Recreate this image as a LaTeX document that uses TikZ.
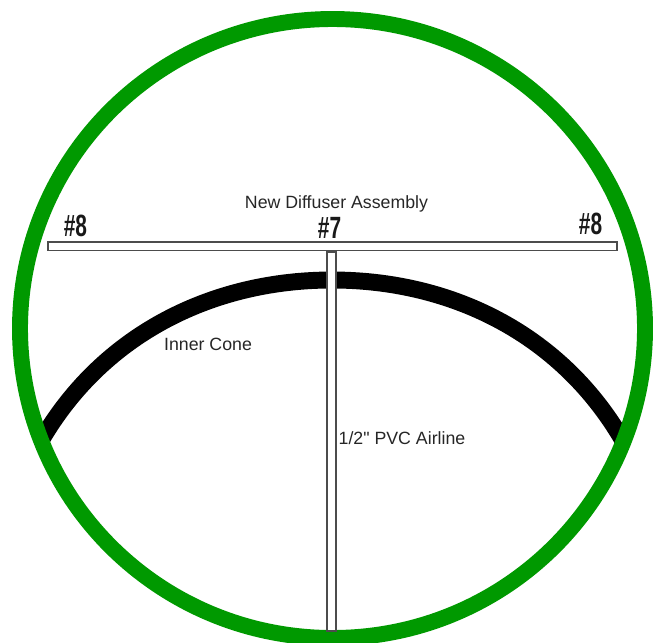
\documentclass[tikz,border=0pt]{standalone}
\usepackage{fontspec}
\newfontfamily\lblfont{Liberation Sans}
\setmainfont{Liberation Sans}
\usetikzlibrary{positioning}
\tikzset{
  lbl/.style={font=\lblfont\fontsize{10.1pt}{12pt}\selectfont,text=black!85,inner sep=0pt},
  nr/.style={font=\fontsize{17.5pt}{19pt}\selectfont\bfseries,xscale=0.68,text=black!90,inner sep=0pt},
  tube/.style={draw=black!70,fill=white,line width=1pt}
}
\definecolor{ringgreen}{RGB}{0,153,0}
\begin{document}
\begin{tikzpicture}[x=0.02cm,y=-0.02cm]
  \useasboundingbox (0,0) rectangle (655,642);
  \clip (0,0) rectangle (655,642);
  % inner cone
  \draw[line width=17*0.5669pt] (42,439) .. controls (105,332) and (215,280) .. (332,280) .. controls (449,280) and (559,332) .. (622,439);
  % outer wall
  \draw[ringgreen,line width=16*0.5669pt] (332.5,328.5) ellipse (312.5 and 309.5);
  % airline and diffuser
  \draw[tube] (327,252) rectangle (336,631);
  \draw[tube] (48,242) rectangle (617,250.5);
  \node[lbl] (diffuser) at (336.5,204) {New Diffuser Assembly};
  \node[lbl] (cone) at (208,344) {Inner Cone};
  \node[lbl] (airline) at (402,438) {1/2" PVC Airline};
  \node[nr] (left) at (75.5,226) {\#8};
  \node[nr] (mid) at (329.5,228) {\#7};
  \node[nr] (right) at (590.5,224) {\#8};
\end{tikzpicture}
\end{document}
